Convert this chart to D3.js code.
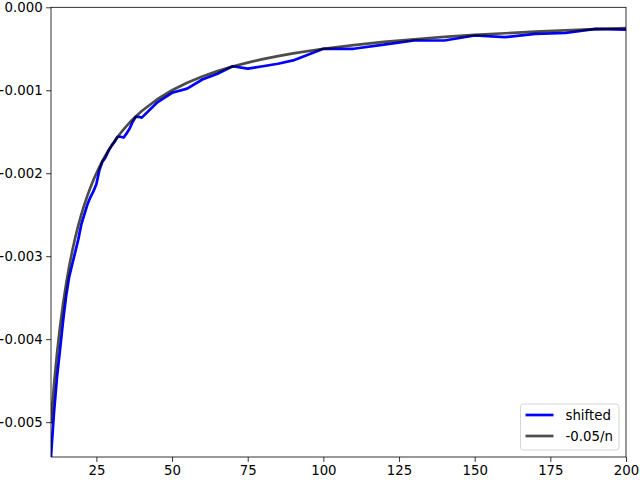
<!DOCTYPE html>
<html>
<head>
<meta charset="utf-8">
<script src="https://cdn.jsdelivr.net/npm/d3@7.9.0/dist/d3.min.js"></script>
<style>
  html, body { margin: 0; padding: 0; background: #fff; }
  svg { display: block; font-family: "DejaVu Sans", sans-serif; }
</style>
</head>
<body>
<svg id="chart" width="640" height="480"></svg>
<script>
// sample sizes n
const nValues = [10, 11, 12, 13, 14, 15, 16, 17, 18, 19, 20, 21, 22, 23, 24, 25, 26, 27, 28, 29,
  30, 31, 32, 33, 34, 35, 36, 37, 38, 39, 40, 45, 50, 55, 60, 65, 70, 75, 80, 85, 90,
  100, 110, 120, 130, 140, 150, 160, 170, 180, 190, 200];

// blue "shifted" series
const shifted = [-0.00541, -0.00488, -0.00445, -0.00412, -0.00378, -0.00348, -0.00325, -0.00310,
  -0.00295, -0.00280, -0.00262, -0.00250, -0.00238, -0.00229, -0.00222, -0.00213, -0.00196,
  -0.00186, -0.00181, -0.00173, -0.00167, -0.00162, -0.00156, -0.00156, -0.00157, -0.00152,
  -0.00146, -0.00138, -0.00132, -0.00132, -0.00133, -0.00115, -0.00103, -0.00098, -0.00087,
  -0.00080, -0.00071, -0.00074, -0.00071, -0.00068, -0.00064, -0.00050, -0.00050, -0.00045,
  -0.00040, -0.00040, -0.00034, -0.00036, -0.00032, -0.00031, -0.00026, -0.00027];

// gray reference curve -0.05/n at the same n
const reference = [-0.005, -0.004545, -0.004167, -0.003846, -0.003571, -0.003333, -0.003125,
  -0.002941, -0.002778, -0.002632, -0.0025, -0.002381, -0.002273, -0.002174, -0.002083, -0.002,
  -0.001923, -0.001852, -0.001786, -0.001724, -0.001667, -0.001613, -0.001563, -0.001515,
  -0.001471, -0.001429, -0.001389, -0.001351, -0.001316, -0.001282, -0.00125, -0.001111, -0.001,
  -0.000909, -0.000833, -0.000769, -0.000714, -0.000667, -0.000625, -0.000588, -0.000556,
  -0.0005, -0.000455, -0.000417, -0.000385, -0.000357, -0.000333, -0.000313, -0.000294,
  -0.000278, -0.000263, -0.00025];

const xTicks = [25, 50, 75, 100, 125, 150, 175, 200];
const yTicks = [0, -0.001, -0.002, -0.003, -0.004, -0.005];
const legendLabels = ['shifted', '-0.05/n'];

const margin = { left: 51, right: 14, top: 7.3, bottom: 23 };
const W = 640, H = 480;
const svg = d3.select('#chart');

const x = d3.scaleLinear().domain([10, 200]).range([margin.left, W - margin.right]);
const y = d3.scaleLinear().domain([-0.00542, 0]).range([H - margin.bottom, margin.top]);

svg.append('defs').append('clipPath').attr('id', 'clip')
  .append('rect')
  .attr('x', margin.left).attr('y', margin.top)
  .attr('width', W - margin.left - margin.right)
  .attr('height', H - margin.top - margin.bottom);

const fmtMinus = v => d3.format('.3f')(v).replace('-', '\u2212');

const xAxis = svg.append('g')
  .attr('transform', `translate(0,${H - margin.bottom})`)
  .call(d3.axisBottom(x).tickValues(xTicks).tickSize(4.9).tickPadding(3.5).tickFormat(d3.format('d')));

const yAxis = svg.append('g')
  .attr('transform', `translate(${margin.left},0)`)
  .call(d3.axisLeft(y).tickValues(yTicks).tickSize(4.9).tickPadding(3.5).tickFormat(fmtMinus));

[xAxis, yAxis].forEach(a => {
  a.select('.domain').remove();
  a.selectAll('line').attr('stroke', '#000').attr('stroke-width', 0.8);
  a.selectAll('text').attr('fill', '#000').style('font-size', '13.3px')
    .style('font-family', '"DejaVu Sans", sans-serif');
});

const line = d3.line().x((d, i) => x(nValues[i])).y(d => y(d));

const plot = svg.append('g').attr('clip-path', 'url(#clip)');

plot.append('path')
  .datum(shifted)
  .attr('d', line)
  .attr('fill', 'none')
  .attr('stroke', '#0000ff')
  .attr('stroke-width', 2.7)
  .attr('stroke-linejoin', 'round')
  .attr('stroke-linecap', 'square');

plot.append('path')
  .datum(reference)
  .attr('d', line)
  .attr('fill', 'none')
  .attr('stroke', '#000')
  .attr('stroke-opacity', 0.7)
  .attr('stroke-width', 2.7)
  .attr('stroke-linejoin', 'round')
  .attr('stroke-linecap', 'square');

// frame
svg.append('rect')
  .attr('x', margin.left).attr('y', margin.top)
  .attr('width', W - margin.left - margin.right)
  .attr('height', H - margin.top - margin.bottom)
  .attr('fill', 'none')
  .attr('stroke', '#000')
  .attr('stroke-width', 0.8);

// legend
const lg = svg.append('g').attr('transform', 'translate(520.5,404)');
lg.append('rect')
  .attr('width', 98.5).attr('height', 46)
  .attr('rx', 3)
  .attr('fill', '#fff').attr('fill-opacity', 0.8)
  .attr('stroke', '#cccccc').attr('stroke-width', 0.8);

const legendColors = [{ c: '#0000ff', o: 1 }, { c: '#000', o: 0.7 }];
legendLabels.forEach((lab, i) => {
  const yy = 11 + i * 21;
  lg.append('line')
    .attr('x1', 5).attr('x2', 33).attr('y1', yy).attr('y2', yy)
    .attr('stroke', legendColors[i].c)
    .attr('stroke-opacity', legendColors[i].o)
    .attr('stroke-width', 2.7);
  lg.append('text')
    .attr('x', 45).attr('y', yy)
    .attr('dy', '0.35em')
    .style('font-size', '13.3px')
    .text(lab);
});
</script>
</body>
</html>
